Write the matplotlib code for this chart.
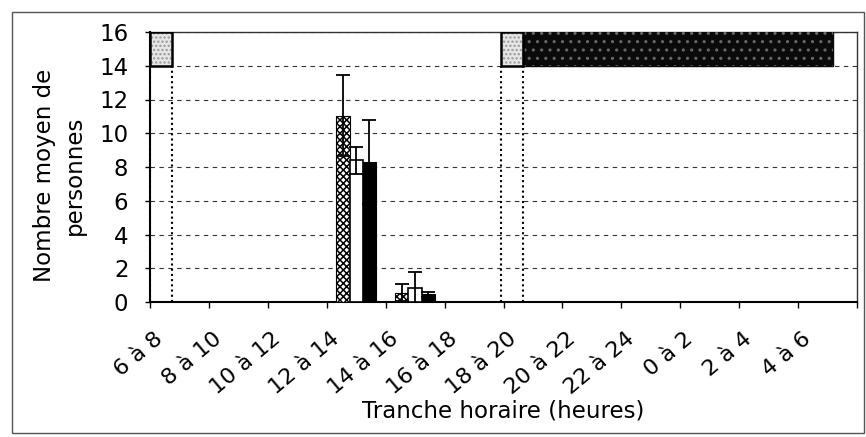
import numpy as np
import matplotlib
matplotlib.use('Agg')
import matplotlib.pyplot as plt
from matplotlib.patches import Rectangle
from matplotlib.transforms import ScaledTranslation

# Time slots (2 h each) starting at 6h
tranches = ['6 à 8', '8 à 10', '10 à 12', '12 à 14', '14 à 16', '16 à 18',
            '18 à 20', '20 à 22', '22 à 24', '0 à 2', '2 à 4', '4 à 6']

# Mean number of people per slot, three series, with their standard deviations
moyenne_a = [0, 0, 0, 11.05, 0.55, 0, 0, 0, 0, 0, 0, 0]
ecart_a = [0, 0, 0, 2.4, 0.5, 0, 0, 0, 0, 0, 0, 0]
moyenne_b = [0, 0, 0, 8.4, 0.85, 0, 0, 0, 0, 0, 0, 0]
ecart_b = [0, 0, 0, 0.8, 0.95, 0, 0, 0, 0, 0, 0, 0]
moyenne_c = [0, 0, 0, 8.3, 0.45, 0, 0, 0, 0, 0, 0, 0]
ecart_c = [0, 0, 0, 2.5, 0.15, 0, 0, 0, 0, 0, 0, 0]

# Light periods (hours, counted from 6h, past midnight goes on as 24+)
crepuscule = [(6.0, 6.75), (17.9, 18.65)]
nuit = [(18.65, 29.2)]

plt.rcParams['font.family'] = ['DejaVu Sans']
plt.rcParams['hatch.linewidth'] = 1.1


def heure_vers_x(h):
    # one category = 2 hours, axis starts at 6h
    return (h - 6) / 2


fig = plt.figure(figsize=(8.66, 4.37), dpi=100)
ax = fig.add_axes([150 / 866, 1 - 302 / 437, 707 / 866, 270 / 437])

x = np.arange(len(tranches)) + 0.5
w = 0.225

ax.bar(x - w, moyenne_a, w, facecolor='white', edgecolor='black', hatch='xxxxx', lw=0.8, zorder=3)
ax.bar(x, moyenne_b, w, facecolor='white', edgecolor='black', lw=1.2, zorder=3)
ax.bar(x + w, moyenne_c, w, facecolor='black', edgecolor='black', lw=0.8, zorder=3)

for dx, moy, err in [(-w, moyenne_a, ecart_a), (0, moyenne_b, ecart_b), (w, moyenne_c, ecart_c)]:
    moy = np.array(moy)
    err = np.array(err)
    m = err > 0
    ax.errorbar(x[m] + dx, moy[m], yerr=err[m], fmt='none', ecolor='black',
                elinewidth=1.3, capsize=5, capthick=1.3, zorder=4)

# day/night band at the top
for debut, fin in crepuscule:
    x0, x1 = heure_vers_x(debut), heure_vers_x(fin)
    ax.add_patch(Rectangle((x0, 14), x1 - x0, 2, facecolor='#e6e6e6', edgecolor='#999999',
                           hatch='....', lw=0, zorder=3))
    ax.add_patch(Rectangle((x0, 14), x1 - x0, 2, fill=False, edgecolor='black', lw=1.8, zorder=4))
    for xv in (x0, x1):
        ax.plot([xv, xv], [0, 14], color='black', lw=1.5, linestyle=(0, (1, 1.5)), zorder=2)
for debut, fin in nuit:
    x0, x1 = heure_vers_x(debut), heure_vers_x(fin)
    ax.add_patch(Rectangle((x0, 14), x1 - x0, 2, facecolor='#0a0a0a', edgecolor='#0a0a0a',
                           lw=1, zorder=3))
    ax.add_patch(Rectangle((x0, 14), x1 - x0, 2, fill=False, edgecolor='#666666',
                           hatch='..', lw=0, zorder=3))

ax.set_xlim(0, 12)
ax.set_ylim(0, 16)

ax.set_yticks(range(0, 17, 2))
ax.yaxis.grid(True, linestyle=(0, (4, 4)), color='#333333', lw=0.8)
ax.set_axisbelow(True)

ax.set_xticks(range(0, 13))
ax.set_xticklabels([])
ax.tick_params(axis='x', length=4.5, width=1, direction='out')
ax.tick_params(axis='y', length=3.5, width=1, direction='out', labelsize=16.5, pad=12)

# slot names, rotated, under each category
decalage = ScaledTranslation(-19.5 / 100, -34.5 / 100, fig.dpi_scale_trans)
for xi, nom in zip(x, tranches):
    ax.text(xi, 0, nom, transform=ax.get_xaxis_transform() + decalage, rotation=40,
            rotation_mode='anchor', ha='right', va='center', fontsize=16)

for s in ('left', 'bottom'):
    ax.spines[s].set_linewidth(1.5)
    ax.spines[s].set_color('black')
for s in ('top', 'right'):
    ax.spines[s].set_linestyle((0, (1, 1)))
    ax.spines[s].set_linewidth(1)
    ax.spines[s].set_color('#333333')

ax.set_xlabel('Tranche horaire (heures)', fontsize=16.5)
ax.xaxis.set_label_coords(0.499, -0.362)
ax.set_ylabel('Nombre moyen de\npersonnes', fontsize=16.5, linespacing=1.4)
ax.yaxis.set_label_coords(-0.090, 0.47)

# outer chart frame
fig.add_artist(Rectangle((12 / 866, 4 / 437), 852 / 866, 421 / 437, transform=fig.transFigure,
                         fill=False, edgecolor='#555555', lw=1))

fig.savefig('out.png', dpi=100)
